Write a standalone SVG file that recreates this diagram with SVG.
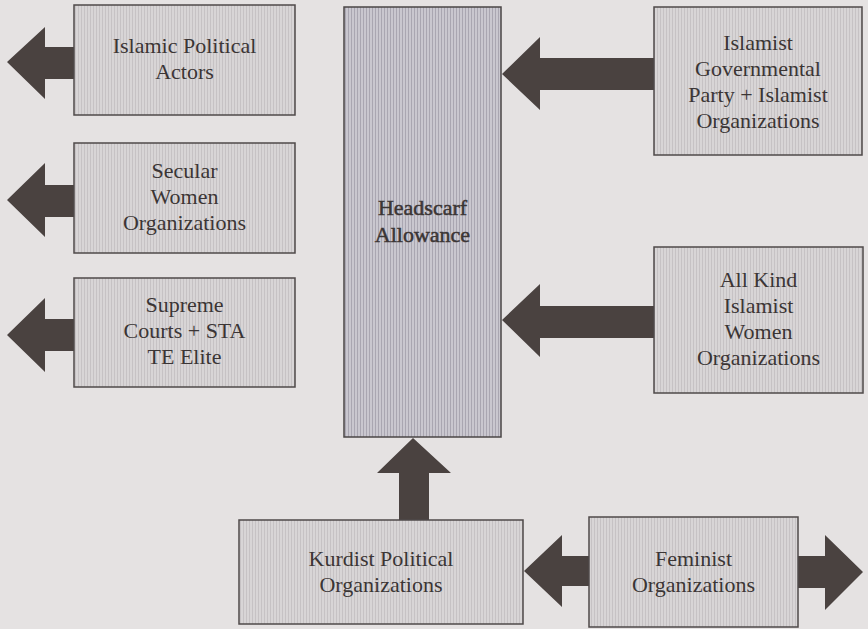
<svg xmlns="http://www.w3.org/2000/svg" width="868" height="629" viewBox="0 0 868 629">
<style>
.box{fill:url(#stripe);stroke:#4f4a4a;stroke-width:1.5}
.cbox{fill:url(#cstripe);stroke:#4a4646;stroke-width:1.5}
.arrow{fill:#4a4240}
text{font-family:"Liberation Serif","Times New Roman",serif;font-size:22px;fill:#3b3535;text-anchor:middle}
.bold{stroke:#3b3535;stroke-width:0.5}
</style>
<defs>
<pattern id="stripe" width="3" height="10" patternUnits="userSpaceOnUse">
<rect width="3" height="10" fill="#d8d5d6"/>
<rect width="1" height="10" fill="#c6c2c4"/>
</pattern>
<pattern id="cstripe" width="3" height="10" patternUnits="userSpaceOnUse">
<rect width="3" height="10" fill="#c9c7cf"/>
<rect width="1" height="10" fill="#a9a6b1"/>
</pattern>
</defs>
<rect width="868" height="629" fill="#e5e2e2"/>
<g id="connectors">
<polygon class="arrow" points="74,47 45,47 45,27 7,62 45,99 45,79 74,79"/>
<polygon class="arrow" points="74,185 45,185 45,163 7,200 45,237 45,217 74,217"/>
<polygon class="arrow" points="74,319 45,319 45,298 7,335 45,372 45,351 74,351"/>
<polygon class="arrow" points="654,58 540,58 540,37 502,74 540,110 540,90 654,90"/>
<polygon class="arrow" points="654,306 540,306 540,284 502,320 540,357 540,338 654,338"/>
<polygon class="arrow" points="399,520 399,473 377,473 413,438 451,473 429,473 429,520"/>
<polygon class="arrow" points="589,556 562,556 562,535 524,571 562,607 562,586 589,586"/>
<polygon class="arrow" points="798,556 825,556 825,535 863,572 825,610 825,588 798,588"/>
</g>
<g id="headscarf">
<rect class="cbox" x="344" y="7" width="157" height="430"/>
<text class="bold" x="422.5" y="215">Headscarf</text>
<text class="bold" x="422.5" y="242">Allowance</text>
</g>
<g id="islamic-political">
<rect class="box" x="74" y="5" width="221" height="110"/>
<text x="184.5" y="53">Islamic Political</text>
<text x="184.5" y="79">Actors</text>
</g>
<g id="secular-women">
<rect class="box" x="74" y="143" width="221" height="110"/>
<text x="184.5" y="178">Secular</text>
<text x="184.5" y="204">Women</text>
<text x="184.5" y="230">Organizations</text>
</g>
<g id="supreme-courts">
<rect class="box" x="74" y="278" width="221" height="109"/>
<text x="184.5" y="312">Supreme</text>
<text x="184.5" y="338">Courts + STA</text>
<text x="184.5" y="364">TE Elite</text>
</g>
<g id="islamist-governmental">
<rect class="box" x="654" y="7" width="208" height="148"/>
<text x="758" y="50">Islamist</text>
<text x="758" y="76">Governmental</text>
<text x="758" y="102">Party + Islamist</text>
<text x="758" y="128">Organizations</text>
</g>
<g id="islamist-women">
<rect class="box" x="654" y="247" width="209" height="146"/>
<text x="758.5" y="287">All Kind</text>
<text x="758.5" y="313">Islamist</text>
<text x="758.5" y="339">Women</text>
<text x="758.5" y="365">Organizations</text>
</g>
<g id="kurdist">
<rect class="box" x="239" y="520" width="284" height="104"/>
<text x="381" y="566">Kurdist Political</text>
<text x="381" y="592">Organizations</text>
</g>
<g id="feminist">
<rect class="box" x="589" y="517" width="209" height="110"/>
<text x="693.5" y="566">Feminist</text>
<text x="693.5" y="592">Organizations</text>
</g>
</svg>
